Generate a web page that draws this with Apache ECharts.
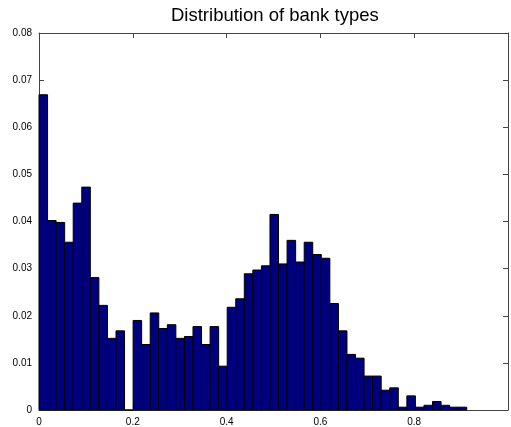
<!DOCTYPE html>
<html>
<head>
<meta charset="utf-8">
<script src="https://cdn.jsdelivr.net/npm/echarts@6/dist/echarts.min.js"></script>
<style>html,body{margin:0;padding:0;background:#fff}#c{width:511px;height:427px}</style>
</head>
<body>
<div id="c"></div>
<script>
var title = 'Distribution of bank types';
var binWidth = 0.01824;
var binValues = [
  0.0669, 0.0402, 0.0398, 0.0356, 0.0439, 0.0473, 0.0281, 0.0222, 0.0152, 0.0168,
  0.0000, 0.0190, 0.0139, 0.0206, 0.0173, 0.0181, 0.0152, 0.0156, 0.0177, 0.0139,
  0.0177, 0.0093, 0.0218, 0.0236, 0.0289, 0.0297, 0.0306, 0.0415, 0.0310, 0.0360,
  0.0314, 0.0356, 0.0330, 0.0322, 0.0226, 0.0168, 0.0118, 0.0110, 0.0072, 0.0072,
  0.0042, 0.0047, 0.0006, 0.0030, 0.0006, 0.0010, 0.0018, 0.0010, 0.0006, 0.0006
];
var xTicks = [0, 0.2, 0.4, 0.6, 0.8];
var yTicks = [0, 0.01, 0.02, 0.03, 0.04, 0.05, 0.06, 0.07, 0.08];

var data = binValues.map(function (v, i) { return [i * binWidth, (i + 1) * binWidth, v]; });

var chart = echarts.init(document.getElementById('c'), null, {renderer: 'canvas'});
var axisColor = '#444';
var font = 'Liberation Sans, Arial, sans-serif';
chart.setOption({
  animation: false,
  title: {
    text: title, left: 171, top: 6, padding: 0,
    textStyle: {fontFamily: font, fontSize: 18.5, fontWeight: 'normal', color: '#000'}
  },
  grid: {left: 39, top: 33, width: 475, height: 377},
  xAxis: [{
    type: 'value', min: 0, max: 1, interval: 0.2, position: 'bottom',
    axisLine: {show: true, lineStyle: {color: axisColor, width: 1}},
    axisTick: {show: true, inside: true, length: 5, lineStyle: {color: axisColor}},
    splitLine: {show: false},
    axisLabel: {
      margin: 7, color: '#000', fontFamily: font, fontSize: 10,
      formatter: function (v) { return xTicks.indexOf(Math.round(v * 10) / 10) >= 0 ? String(Math.round(v * 10) / 10) : ''; }
    }
  }, {
    type: 'value', min: 0, max: 1, interval: 0.2, position: 'top',
    axisLine: {show: true, onZero: false, lineStyle: {color: axisColor, width: 1}},
    axisTick: {show: true, inside: true, length: 5, lineStyle: {color: axisColor}},
    splitLine: {show: false}, axisLabel: {show: false}
  }],
  yAxis: [{
    type: 'value', min: 0, max: 0.08, interval: 0.01, position: 'left',
    axisLine: {show: true, lineStyle: {color: axisColor, width: 1}},
    axisTick: {show: true, inside: true, length: 5, lineStyle: {color: axisColor}},
    splitLine: {show: false},
    axisLabel: {
      margin: 7, color: '#000', fontFamily: font, fontSize: 10,
      formatter: function (v) { return v === 0 ? '0' : v.toFixed(2); }
    }
  }, {
    type: 'value', min: 0, max: 0.08, interval: 0.01, position: 'right',
    axisLine: {show: true, onZero: false, lineStyle: {color: axisColor, width: 1}},
    axisTick: {show: true, inside: true, length: 5, lineStyle: {color: axisColor}},
    splitLine: {show: false}, axisLabel: {show: false}
  }],
  series: [{
    type: 'custom',
    xAxisIndex: 0, yAxisIndex: 0,
    data: data,
    renderItem: function (params, api) {
      var p0 = api.coord([api.value(0), api.value(2)]);
      var p1 = api.coord([api.value(1), 0]);
      return {
        type: 'rect',
        shape: {x: p0[0], y: p0[1], width: p1[0] - p0[0], height: p1[1] - p0[1]},
        style: {fill: '#00007f', stroke: '#000', lineWidth: 1}
      };
    }
  }]
});
</script>
</body>
</html>
